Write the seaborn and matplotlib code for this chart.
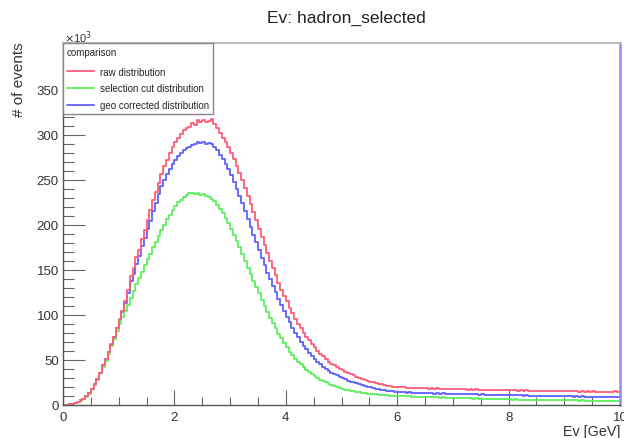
import numpy as np
import pandas as pd
import seaborn as sns
import matplotlib
matplotlib.use("Agg")
import matplotlib.pyplot as plt
from matplotlib.lines import Line2D
from matplotlib.ticker import MultipleLocator

# Binning of the neutrino energy histograms (GeV)
bin_width = 0.05
bin_centers = np.arange(200) * bin_width + bin_width / 2

# Event counts per bin, in units of 10^3
raw_counts = [
    0.1, 0.4, 0.9, 1.6, 2.5, 3.6, 5.0, 7.0, 9.5, 13,
    18, 23, 29, 36, 44, 51, 59, 68, 76, 86,
    95, 104, 115, 128, 143, 152, 164, 172, 184, 194,
    205, 216, 228, 237, 247, 257, 265, 272, 280, 287,
    292, 297, 301, 305, 308, 309, 313, 311, 316, 314,
    317, 314, 315, 318, 312, 308, 302, 297, 292, 286,
    280, 273, 265, 258, 250, 241, 232, 223, 214, 205,
    196, 187, 178, 169, 160, 152, 144, 136, 128, 121,
    115, 108, 102, 96, 90, 85, 80, 76, 72, 68,
    64, 60, 57, 54, 51, 48, 46, 44, 42, 40,
    39, 37, 35, 34, 33, 31, 30, 29, 28, 27,
    26, 25, 24, 23.5, 23, 22, 21.5, 21, 20.5, 20,
    20, 19.5, 19.8, 19, 19.4, 18.8, 19.2, 18.6, 19, 18.5,
    18.9, 18.2, 18.7, 18.1, 18.5, 17.9, 18.3, 17.8, 18.2, 17.7,
    18, 17.5, 17.9, 17.3, 17.6, 17.1, 17.5, 17.0, 17.4, 16.9,
    17.2, 16.8, 17.1, 16.6, 17.0, 16.5, 16.8, 16.4, 16.7, 16.3,
    16.6, 16.2, 16.5, 16.0, 16.4, 15.9, 16.3, 15.8, 16.1, 15.7,
    16.0, 15.6, 15.9, 15.5, 15.8, 15.4, 15.7, 15.3, 15.6, 15.2,
    15.5, 15.1, 15.4, 15.0, 15.3, 14.9, 15.2, 14.8, 15.1, 14.7,
    15.0, 14.6, 14.9, 14.5, 14.8, 14.4, 14.7, 14.3, 15.2, 14.5,
]

selection_counts = [
    0.1, 0.4, 0.9, 1.6, 2.5, 3.5, 4.9, 6.8, 9.3, 12.7,
    17.5, 22.5, 28, 35, 42, 49, 57, 65, 73, 82,
    90, 98, 104, 111, 119, 127, 134, 141, 148, 155,
    162, 168, 175, 181, 188, 194, 200, 206, 211, 216,
    221, 225, 228, 231, 233, 235, 235, 234, 235, 233,
    234, 232, 231, 229, 226, 222, 218, 213, 208, 202,
    196, 189, 182, 175, 168, 160, 152, 145, 138, 131,
    124, 117, 110, 103, 97, 91, 85, 79, 74, 69,
    64, 59, 55, 51, 48, 45, 42, 39, 37, 34.5,
    32, 30, 28, 26.5, 25, 23.5, 22, 21, 20, 19,
    18, 17, 16.3, 15.6, 15, 14.5, 14, 13.5, 13, 12.6,
    12.3, 12, 11.7, 11.4, 11.1, 10.9, 10.6, 10.4, 10.2, 10.0,
    9.9, 9.7, 9.8, 9.5, 9.6, 9.3, 9.4, 9.1, 9.2, 8.9,
    9.0, 8.7, 8.8, 8.5, 8.6, 8.3, 8.4, 8.1, 8.2, 8.0,
    8.0, 7.7, 7.8, 7.5, 7.6, 7.3, 7.4, 7.2, 7.3, 7.0,
    7.1, 6.9, 7.0, 6.7, 6.8, 6.6, 6.7, 6.4, 6.5, 6.3,
    6.4, 6.1, 6.2, 6.0, 6.1, 5.9, 6.0, 5.8, 5.9, 5.7,
    5.8, 5.6, 5.7, 5.5, 5.6, 5.4, 5.5, 5.3, 5.4, 5.2,
    5.3, 5.1, 5.2, 5.0, 5.1, 4.9, 5.0, 4.8, 4.9, 4.7,
    4.8, 4.6, 4.7, 4.5, 4.6, 4.4, 4.5, 4.3, 4.6, 4.4,
]

geo_counts = [
    0.1, 0.4, 0.9, 1.6, 2.5, 3.6, 5.0, 7.0, 9.5, 13,
    18, 23, 29, 36, 44, 51, 59, 67, 76, 85,
    94, 103, 113, 124, 138, 146, 157, 166, 177, 186,
    195, 204, 215, 224, 234, 243, 250, 256, 262, 268,
    272, 276, 280, 283, 285, 287, 289, 290, 292, 291,
    292, 290, 291, 290, 287, 283, 278, 273, 268, 262,
    255, 248, 240, 232, 224, 215, 206, 198, 189, 181,
    172, 163, 155, 147, 140, 132, 125, 118, 111, 104,
    98, 92, 86, 80, 75, 70, 66, 62, 58, 54,
    51, 48, 45, 42, 40, 38, 36, 34, 33, 31,
    30, 28.5, 27, 26, 25, 24, 23, 22, 21, 20.5,
    20, 19, 18, 17.5, 17, 16.5, 16, 15.5, 15, 14.6,
    14.3, 14, 14.2, 13.8, 13.9, 13.5, 13.7, 13.3, 13.5, 13.1,
    13.3, 12.9, 13.1, 12.7, 12.9, 12.6, 12.8, 12.4, 12.6, 12.3,
    12.5, 12.1, 12.3, 12.0, 12.2, 11.8, 12.0, 11.7, 11.9, 11.5,
    11.8, 11.4, 11.6, 11.3, 11.5, 11.1, 11.4, 11.0, 11.2, 10.9,
    11.1, 10.7, 10.9, 10.6, 10.8, 10.4, 10.7, 10.3, 10.5, 10.2,
    10.4, 10.1, 10.3, 9.9, 10.2, 9.8, 10.0, 9.7, 9.9, 9.6,
    9.8, 9.5, 9.7, 9.4, 9.6, 9.3, 9.5, 9.2, 9.4, 9.1,
    9.3, 9.0, 9.2, 8.9, 9.1, 8.8, 9.0, 8.7, 9.2, 8.9,
]

series_names = ["raw distribution", "selection cut distribution", "geo corrected distribution"]
series_colors = ["#ff5c78", "#5cf05c", "#6060ff"]
x_ticks = [0, 2, 4, 6, 8, 10]
y_ticks = [0, 50, 100, 150, 200, 250, 300, 350]

frames = []
for name, counts in zip(series_names, [raw_counts, selection_counts, geo_counts]):
    frames.append(pd.DataFrame({"Ev": bin_centers, "count": counts, "sample": name}))
df = pd.concat(frames, ignore_index=True)

sns.set_style("white")
plt.rcParams["font.family"] = ["Liberation Sans", "DejaVu Sans"]

fig = plt.figure(figsize=(6.24, 4.39), dpi=100)
ax = fig.add_axes([63 / 624, 1 - 406 / 439, 557 / 624, 362 / 439])

sns.histplot(
    data=df, x="Ev", weights="count", hue="sample", hue_order=series_names,
    palette=series_colors, binwidth=bin_width, binrange=(0, 10),
    element="step", fill=False, linewidth=1.3, legend=False, ax=ax,
)

ax.set_xlim(0, 10)
ax.set_ylim(0, 402)
ax.set_xticks(x_ticks)
ax.set_yticks(y_ticks)
ax.set_xticklabels([str(t) for t in x_ticks])
ax.set_yticklabels([str(t) for t in y_ticks])
ax.xaxis.set_minor_locator(MultipleLocator(0.5))
ax.yaxis.set_minor_locator(MultipleLocator(10))
ax.tick_params(axis="both", which="both", direction="in", colors="#666666",
               labelcolor="#333333", labelsize=9.5, width=0.8,
               bottom=True, left=True, top=False, right=False)
ax.tick_params(axis="y", which="major", length=16, pad=3)
ax.tick_params(axis="y", which="minor", length=8)
ax.tick_params(axis="x", which="major", length=11, pad=4)
ax.tick_params(axis="x", which="minor", length=5.5)

for side in ["left", "bottom"]:
    ax.spines[side].set_color("#555555")
    ax.spines[side].set_linewidth(1.0)
ax.spines["top"].set_color("#bbbbbb")
ax.spines["top"].set_linewidth(1.5)
ax.spines["right"].set_color("#8c8cff")
ax.spines["right"].set_linewidth(1.8)

ax.set_xlabel("")
ax.set_ylabel("")
fig.text(620 / 624, 1 - 432 / 439, "Ev [GeV]", ha="right", va="center", fontsize=10.3, color="#333333")
fig.text(19 / 624, 1 - 42 / 439, "# of events", rotation=90, ha="center", va="top", fontsize=11, color="#333333")
fig.text(64 / 624, 1 - 43 / 439, r"$\times$10$^{3}$", ha="left", va="baseline", fontsize=8, color="#333333")
fig.text(346 / 624, 1 - 18 / 439, "Ev: hadron_selected", ha="center", va="center", fontsize=12.5, color="#222222")

handles = [Line2D([0], [0], color=c, lw=1.3) for c in series_colors]
leg = ax.legend(handles, series_names, title="comparison", loc="upper left",
                bbox_to_anchor=(0.0, 1.0), fontsize=7, title_fontsize=7,
                frameon=True, fancybox=False, edgecolor="#888888", framealpha=1.0,
                borderpad=0.4, handlelength=2.8, handletextpad=0.6,
                labelspacing=0.7, borderaxespad=0.0)
leg.get_frame().set_linewidth(1.0)
leg.set_zorder(10)
leg._legend_box.align = "left"
leg._legend_box.sep = 7

fig.savefig("out.png", dpi=100)
